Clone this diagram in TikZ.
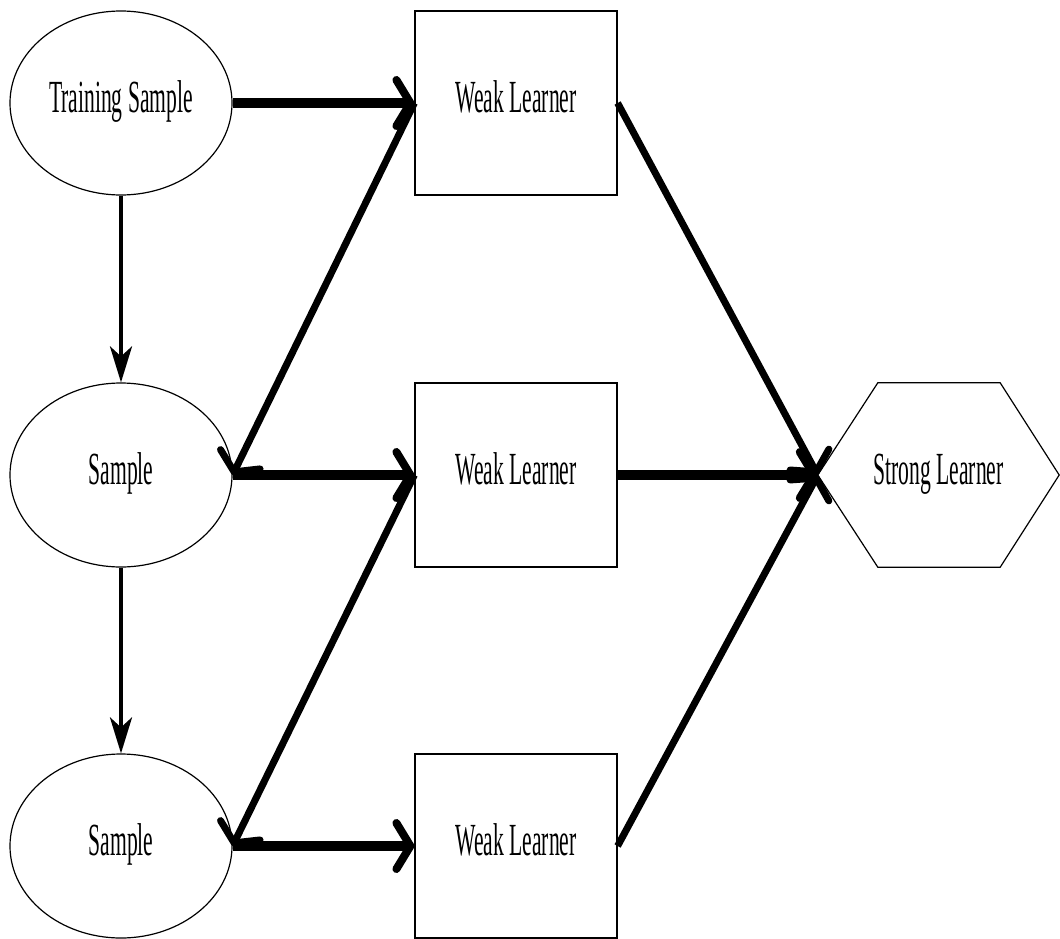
\documentclass[tikz,border=0pt]{standalone}
\usepackage{fontspec}
\setmainfont{Liberation Serif}[FakeStretch=0.47]
\usetikzlibrary{shapes.geometric,arrows.meta}
\tikzset{
  txt/.style={font=\fontsize{46}{50}\selectfont, text height=31pt, text depth=12pt, inner sep=0pt},
  samplenode/.style={txt, ellipse, draw, line width=1.2pt, minimum width=222pt, minimum height=184pt},
  weaknode/.style={txt, rectangle, draw, line width=1.2pt, minimum width=202pt, minimum height=184pt},
  hexnode/.style={txt, rectangle, minimum width=241pt, minimum height=184pt},
  thickarrow/.style={line width=10pt, -{Straight Barb[length=14pt,width=46pt,line width=8pt,round]}},
  slantarrow/.style={line width=7pt, -{Straight Barb[length=14pt,width=44pt,line width=7pt,round]}},
  vertarrow/.style={line width=4pt, -{Stealth[length=36pt,width=22pt,inset=10pt]}},
}
\begin{document}
\begin{tikzpicture}[x=1pt,y=-1pt]
\useasboundingbox (0,0) rectangle (1060,939);
\node[samplenode] (ts) at (121,103) {Training Sample};
\node[samplenode] (s2) at (121,475) {Sample};
\node[samplenode] (s3) at (121,846) {Sample};
\node[weaknode] (w1) at (516,103) {Weak Learner};
\node[weaknode] (w2) at (516,475) {Weak Learner};
\node[weaknode] (w3) at (516,846) {Weak Learner};
\node[hexnode] (hx) at (938.5,475) {Strong Learner};
\draw[line width=1.2pt] (hx.west) -- ([xshift=60pt]hx.north west) -- ([xshift=-59pt]hx.north east) -- (hx.east) -- ([xshift=-59pt]hx.south east) -- ([xshift=60pt]hx.south west) -- cycle;
\draw[thickarrow] (ts.east) -- (w1.west);
\draw[thickarrow] (s2.east) -- (w2.west);
\draw[thickarrow] (s3.east) -- (w3.west);
\draw[slantarrow] (w1.west) -- (s2.east);
\draw[slantarrow] (w2.west) -- (s3.east);
\draw[vertarrow] (ts.south) -- (s2.north);
\draw[vertarrow] (s2.south) -- (s3.north);
\draw[slantarrow] (w1.east) -- (hx.west);
\draw[thickarrow] (w2.east) -- (hx.west);
\draw[slantarrow] (w3.east) -- (hx.west);
\end{tikzpicture}
\end{document}
